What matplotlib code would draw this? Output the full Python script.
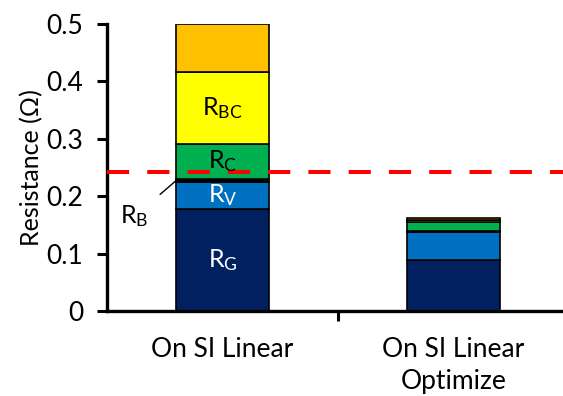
import matplotlib
matplotlib.use("Agg")
import matplotlib.pyplot as plt
from matplotlib.ticker import FixedLocator, FuncFormatter

plt.rcParams['font.family'] = ['Lato', 'DejaVu Sans']
plt.rcParams['mathtext.fontset'] = 'custom'
plt.rcParams['mathtext.rm'] = 'Lato'
plt.rcParams['mathtext.it'] = 'Lato'

categories = ["On SI Linear", "On SI Linear\nOptimize"]
r_g = [0.178, 0.089]
r_v = [0.047, 0.048]
r_b = [0.005, 0.003]
r_c = [0.061, 0.015]
r_bc = [0.126, 0.003]
r_other = [0.083, 0.004]
target = 0.243
y_ticks = [0, 0.1, 0.2, 0.3, 0.4, 0.5]

components = [
    (r_g, "#002060", "G", "white"),
    (r_v, "#0070C0", "V", "white"),
    (r_b, "#000000", "B", None),
    (r_c, "#00B050", "C", "black"),
    (r_bc, "#FFFF00", "BC", "black"),
    (r_other, "#FFC000", None, None),
]

fig = plt.figure(figsize=(5.63, 3.96), dpi=100)
ax = fig.add_axes([0.190, 0.2146, 0.8207, 0.7248])

x = list(range(len(categories)))
bottom = [0.0] * len(categories)
for values, color, sub, txt_color in components:
    ax.bar(x, values, width=0.40, bottom=bottom, color=color,
           edgecolor="black", linewidth=1.2, zorder=2)
    if txt_color is not None:
        mid = bottom[0] + values[0] / 2
        ax.text(x[0], mid, r"$\mathrm{R_{%s}}$" % sub, ha="center",
                va="center", color=txt_color, fontsize=18, zorder=4)
    bottom = [b + v for b, v in zip(bottom, values)]

# R_B callout pointing at the thin black layer
rb_y = r_g[0] + r_v[0] + r_b[0] / 2
ax.annotate(r"$\mathrm{R_{B}}$", xy=(x[0] - 0.20, rb_y),
            xytext=(x[0] - 0.38, 0.165), ha="center", va="center",
            fontsize=18, arrowprops=dict(arrowstyle="-", color="black",
                                         lw=1.0, shrinkA=8, shrinkB=0),
            zorder=4)

ax.axhline(target, color="#FF0000", linewidth=2.9, dashes=(5.5, 4.5),
           zorder=3)

ax.set_xlim(-0.5, 1.5)
ax.set_ylim(0, 0.5)
ax.yaxis.set_major_locator(FixedLocator(y_ticks))
ax.yaxis.set_major_formatter(FuncFormatter(lambda v, p: "0" if v == 0 else f"{v:.1f}"))
ax.set_xticks(x)
ax.set_xticklabels(categories, linespacing=1.35)
ax.set_xticks([0.5], minor=True)
ax.tick_params(axis="x", which="major", length=0, labelsize=19, pad=19)
ax.tick_params(axis="x", which="minor", length=7, width=2.2, direction="out")
ax.tick_params(axis="y", length=7, width=2.2, direction="out", labelsize=19, pad=10)
ax.set_ylabel("Resistance (\u03a9)", fontsize=18, labelpad=2)

for side in ("top", "right"):
    ax.spines[side].set_visible(False)
for side in ("left", "bottom"):
    ax.spines[side].set_linewidth(2.4)

fig.savefig("out.png", dpi=100)
